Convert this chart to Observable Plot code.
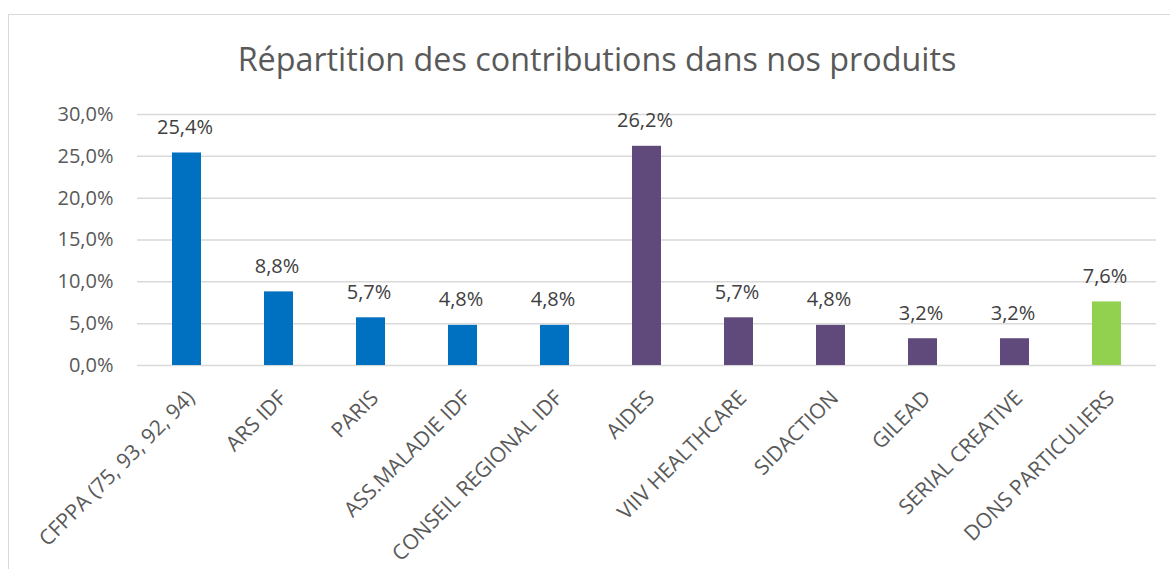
<!DOCTYPE html>
<html>
<head>
<meta charset="utf-8">
<script src="https://cdn.jsdelivr.net/npm/d3@7"></script>
<script src="https://cdn.jsdelivr.net/npm/@observablehq/plot@0.6"></script>
<style>
  html, body { margin: 0; padding: 0; background: #fff; }
  #frame { position: absolute; left: 8px; top: 14px; width: 1178px; height: 600px; border: 1.5px solid #d9d9d9; box-sizing: border-box; }
  #title { position: absolute; left: 0; top: 0; width: 1194px; height: 90px; text-align: center; font-family: "Open Sans", sans-serif; font-size: 32.3px; color: #595959; line-height: 1; padding-top: 42px; box-sizing: border-box; }
  #chart { position: absolute; left: 0; top: 90px; }
</style>
</head>
<body>
<div id="frame"></div>
<div id="title">Répartition des contributions dans nos produits</div>
<div id="chart"></div>
<script>
const categories = ["CFPPA (75, 93, 92, 94)", "ARS IDF", "PARIS", "ASS.MALADIE IDF", "CONSEIL REGIONAL IDF", "AIDES", "VIIV HEALTHCARE", "SIDACTION", "GILEAD", "SERIAL CREATIVE", "DONS PARTICULIERS"];
const values = [25.4, 8.8, 5.7, 4.8, 4.8, 26.2, 5.7, 4.8, 3.2, 3.2, 7.6];
const groups = ["public", "public", "public", "public", "public", "private", "private", "private", "private", "private", "donors"];
const groupNames = ["public", "private", "donors"];
const groupColors = ["#0070C0", "#604A7B", "#92D050"];
const yTicks = [0, 5, 10, 15, 20, 25, 30];

const data = categories.map((c, i) => ({category: c, value: values[i], group: groups[i]}));
const fmt = (d, digits) => d.toFixed(digits).replace(".", ",") + "%";
const font = "Open Sans, sans-serif";

const plot = Plot.plot({
  width: 1170,
  height: 479,
  marginTop: 24,
  marginBottom: 204,
  marginLeft: 137,
  marginRight: 14,
  style: {fontFamily: font, fontSize: "20px", color: "#595959", background: "transparent", overflow: "visible"},
  x: {domain: categories, paddingInner: 0.69, paddingOuter: 0.345, label: null},
  y: {domain: [0, 30], label: null},
  color: {domain: groupNames, range: groupColors},
  marks: [
    Plot.gridY(yTicks, {stroke: "#d9d9d9", strokeOpacity: 1, strokeWidth: 1.5}),
    Plot.barY(data, {x: "category", y: "value", fill: "group"}),
    Plot.text(data, {x: "category", y: "value", text: d => fmt(d.value, 1), dx: -2, dy: -19, lineAnchor: "bottom", fill: "#404040", fontSize: 20}),
    Plot.axisY({ticks: yTicks, tickSize: 0, tickPadding: 24, tickFormat: d => fmt(d, 1), fontSize: 20, fill: "#595959"}),
    Plot.axisX({tickSize: 0, tickRotate: -45, tickPadding: 29, dx: 4, fontSize: 21, fill: "#595959"})
  ]
});
document.getElementById("chart").appendChild(plot);
</script>
</body>
</html>
